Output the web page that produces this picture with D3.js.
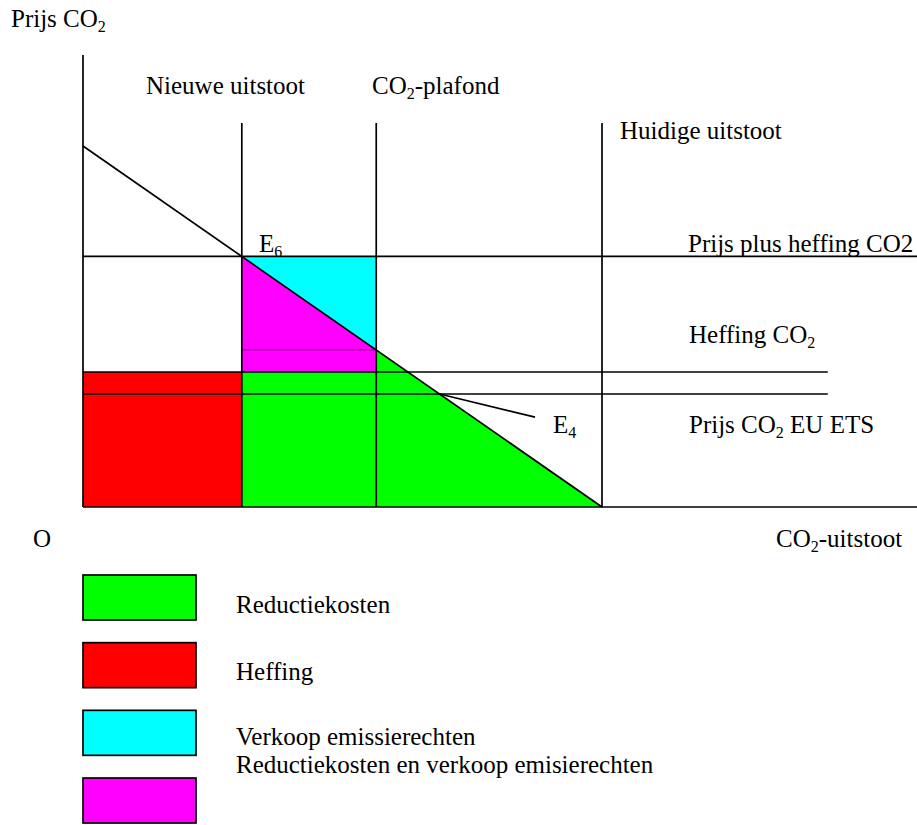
<!DOCTYPE html>
<html>
<head>
<meta charset="utf-8">
<script src="https://cdn.jsdelivr.net/npm/d3@7"></script>
<style>
  body { margin: 0; background: #fff; }
  svg { display: block; }
  text { font-family: "Liberation Serif", "Times New Roman", serif; font-size: 25px; fill: #000; }
</style>
</head>
<body>
<div id="chart"></div>
<script>
// emission levels (x) and price levels (y), abstract units
const emissions = { nieuwe: 30.6, plafond: 56.5, huidige: 100 };
const demandLine = [[0, 100], [100, 0]]; // marginal reduction cost curve
const prices = { plusHeffing: 69.4, heffingTop: 37.4, euEts: 31.3 };
const e4End = [87.1, 24.9];
const axisMax = { x: 160.7, y: 125.2, verticalTop: 106.4, shortLines: 143.5 };

const legendColors = ["#00ff00", "#ff0000", "#00ffff", "#ff00ff"];
const legendLabels = [
  "Reductiekosten",
  "Heffing",
  "Verkoop emissierechten",
  "Reductiekosten en verkoop emisierechten"
];

const W = 917, H = 825;
const svg = d3.select("#chart").append("svg").attr("width", W).attr("height", H);

const x = d3.scaleLinear().domain([0, 100]).range([83, 602]);
const y = d3.scaleLinear().domain([0, 100]).range([507, 146]);

const demand = v => 100 - v; // along demandLine
const pt = d => [x(d[0]), y(d[1])];
const area = pts => "M" + pts.map(pt).join("L") + "Z";

const nw = emissions.nieuwe, pl = emissions.plafond, hu = emissions.huidige;
const p6 = demand(nw), pPl = demand(pl);

// filled areas
svg.append("path").attr("d", area([[0, 0], [0, prices.heffingTop], [nw, prices.heffingTop], [nw, 0]]))
  .attr("fill", legendColors[1]);
svg.append("path").attr("d", area([[nw, 0], [nw, prices.heffingTop], [pl, prices.heffingTop], [pl, pPl], [hu, 0]]))
  .attr("fill", legendColors[0]);
svg.append("path").attr("d", area([[nw, p6], [pl, pPl], [pl, prices.heffingTop], [nw, prices.heffingTop]]))
  .attr("fill", legendColors[3]);
svg.append("path").attr("d", area([[nw, p6], [pl, p6], [pl, pPl]]))
  .attr("fill", legendColors[2]);

// thin line on top of magenta rectangle
svg.append("line")
  .attr("x1", x(nw)).attr("x2", x(pl)).attr("y1", y(pPl)).attr("y2", y(pPl))
  .attr("stroke", "#a000a0").attr("stroke-width", 1.2);

const lines = svg.append("g").attr("stroke", "#000").attr("stroke-width", 1.7).attr("fill", "none");
function seg(a, b) {
  lines.append("line").attr("x1", x(a[0])).attr("y1", y(a[1])).attr("x2", x(b[0])).attr("y2", y(b[1]));
}

// axes
seg([0, 0], [0, axisMax.y]);
seg([0, 0], [axisMax.x, 0]);
// verticals
seg([nw, 0], [nw, axisMax.verticalTop]);
seg([pl, 0], [pl, axisMax.verticalTop]);
seg([hu, 0], [hu, axisMax.verticalTop]);
// horizontals
seg([0, p6], [axisMax.x, p6]);
seg([0, prices.heffingTop], [axisMax.shortLines, prices.heffingTop]);
seg([0, prices.euEts], [axisMax.shortLines, prices.euEts]);
// demand line
lines.append("path").attr("d", d3.line().x(d => x(d[0])).y(d => y(d[1]))(demandLine));
// E4 pointer
seg([100 - prices.euEts, prices.euEts], e4End);

// labels with subscripts
function label(px, py, parts) {
  const t = svg.append("text").attr("x", px).attr("y", py);
  let shift = 0;
  parts.forEach(p => {
    if (typeof p === "string") {
      t.append("tspan").attr("dy", -shift).text(p);
      shift = 0;
    } else {
      t.append("tspan").attr("dy", 5).style("font-size", "16px").text(p.sub);
      shift = 5;
    }
  });
  return t;
}

label(11, 27, ["Prijs CO", { sub: "2" }]);
label(146, 94, ["Nieuwe uitstoot"]);
label(372, 94, ["CO", { sub: "2" }, "-plafond"]);
label(620, 139, ["Huidige uitstoot"]);
label(688, 252, ["Prijs plus heffing CO2"]);
label(259, 252, ["E", { sub: "6" }]);
label(689, 343, ["Heffing CO", { sub: "2" }]);
label(553, 433, ["E", { sub: "4" }]);
label(689, 433, ["Prijs CO", { sub: "2" }, " EU ETS"]);
label(33, 547, ["O"]);
label(776, 547, ["CO", { sub: "2" }, "-uitstoot"]);

// legend
const legendY = d3.scalePoint().domain(legendLabels).range([575, 778]);
const legendTextDy = [38, 37, 35, -5];
const lg = svg.append("g");
lg.selectAll("rect").data(legendLabels).join("rect")
  .attr("x", 83).attr("y", d => legendY(d))
  .attr("width", 113).attr("height", 45)
  .attr("fill", (d, i) => legendColors[i])
  .attr("stroke", "#000").attr("stroke-width", 1.7);
lg.selectAll("text").data(legendLabels).join("text")
  .attr("x", 236).attr("y", (d, i) => legendY(d) + legendTextDy[i])
  .text(d => d);
</script>
</body>
</html>
